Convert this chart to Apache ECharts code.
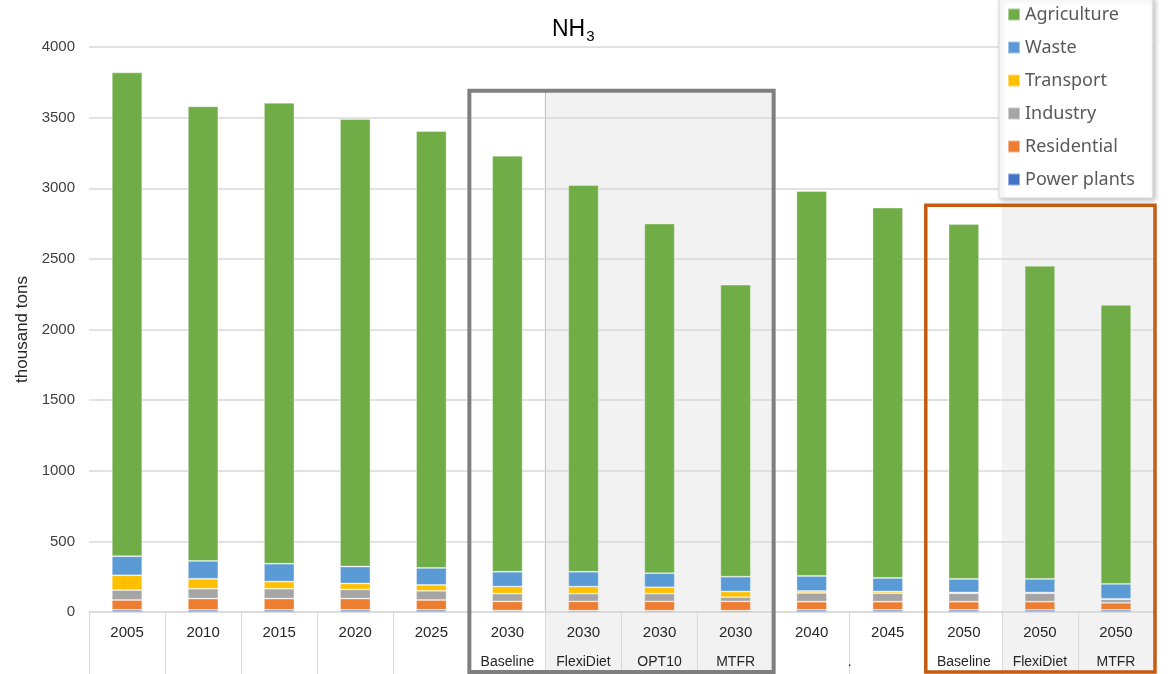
<!DOCTYPE html>
<html lang="en">
<head>
    <meta charset="UTF-8">
    <title>NH3 emissions by sector</title>
    <style>
        html, body { margin: 0; padding: 0; background: #fff; }
        #chart { width: 1170px; height: 674px; }
    </style>
</head>
<body>
<div id="chart"></div>

<script src="https://cdn.jsdelivr.net/npm/echarts/dist/echarts.min.js"></script>
<script>
    // categories: first level (year) and second level (scenario)
    const years = ['2005', '2010', '2015', '2020', '2025', '2030', '2030', '2030', '2030', '2040', '2045', '2050', '2050', '2050'];
    const scenarios = ['', '', '', '', '', 'Baseline', 'FlexiDiet', 'OPT10', 'MTFR', '', '', 'Baseline', 'FlexiDiet', 'MTFR'];

    // thousand tons
    const powerPlants = [15, 15, 15, 15, 15, 10, 10, 10, 10, 15, 15, 15, 15, 15];
    const residential = [70, 80, 80, 80, 70, 65, 65, 65, 65, 58, 58, 58, 58, 50];
    const industry    = [70, 70, 70, 65, 65, 55, 55, 55, 30, 62, 60, 60, 60, 25];
    const transport   = [105, 70, 50, 42, 42, 50, 50, 45, 40, 14, 12, 5, 5, 3];
    const waste       = [135, 127, 127, 120, 120, 105, 105, 100, 105, 106, 96, 96, 96, 106];
    const agriculture = [3425, 3218, 3263, 3168, 3093, 2945, 2738, 2475, 2067, 2725, 2622, 2513, 2217, 1975];

    const yTicks = { min: 0, max: 4000, interval: 500 };

    const narrow = "'Liberation Sans Narrow', 'Liberation Sans', sans-serif";

    const chart = echarts.init(document.getElementById('chart'));

    function bar(name, data, color) {
        return {
            name: name,
            type: 'bar',
            stack: 'total',
            barWidth: '40%',
            data: data,
            itemStyle: { color: color, borderColor: 'rgba(255,255,255,0.45)', borderWidth: 0.8 },
            emphasis: { disabled: true }
        };
    }

    chart.setOption({
        animation: false,
        title: {
            text: '{a|NH}{b|3}',
            left: 547,
            top: 10,
            textStyle: {
                fontWeight: 'normal',
                rich: {
                    a: { fontFamily: 'Liberation Sans', fontSize: 23, fontWeight: 'normal', color: '#000' },
                    b: { fontFamily: 'Liberation Sans', fontSize: 15, fontWeight: 'normal', color: '#000', padding: [14, 0, 0, 1] }
                }
            }
        },
        legend: {
            orient: 'vertical',
            left: 999,
            top: -2,
            padding: [6, 18, 8, 8],
            itemGap: 12,
            itemWidth: 12,
            itemHeight: 12,
            icon: 'rect',
            backgroundColor: '#fff',
            borderColor: '#d9d9d9',
            borderWidth: 1,
            shadowColor: 'rgba(0,0,0,0.25)',
            shadowBlur: 5,
            shadowOffsetX: 2,
            shadowOffsetY: 2,
            textStyle: { fontFamily: 'Noto Sans', fontSize: 18, color: '#595959', lineHeight: 21 },
            data: ['Agriculture', 'Waste', 'Transport', 'Industry', 'Residential', 'Power plants']
        },
        grid: { left: 89, right: 16, top: 47, bottom: 62, containLabel: false },
        xAxis: {
            type: 'category',
            data: years.map((y, i) => y + '|' + scenarios[i]),
            axisLine: { lineStyle: { color: '#d9d9d9', width: 1.5 } },
            axisTick: { show: true, interval: 0, length: 62, lineStyle: { color: '#d9d9d9', width: 1 } },
            axisLabel: {
                interval: 0,
                margin: 12,
                formatter: function (v, i) {
                    return '{y|' + years[i] + '}\n{s|' + (scenarios[i] || ' ') + '}';
                },
                rich: {
                    y: { fontFamily: narrow, fontSize: 15, color: '#262626', lineHeight: 18 },
                    s: { fontFamily: narrow, fontSize: 14, color: '#262626', lineHeight: 40 }
                }
            }
        },
        yAxis: {
            type: 'value',
            min: yTicks.min,
            max: yTicks.max,
            interval: yTicks.interval,
            name: 'thousand tons',
            nameLocation: 'middle',
            nameGap: 56,
            nameTextStyle: { fontFamily: 'Liberation Sans', fontSize: 17, color: '#262626' },
            axisLine: { show: false },
            axisTick: { show: false },
            axisLabel: {
                margin: 14,
                fontFamily: 'Liberation Sans',
                fontSize: 15,
                color: '#404040',
                formatter: v => String(v)
            },
            splitLine: { lineStyle: { color: '#d9d9d9', width: 1.5 } }
        },
        series: [
            bar('Power plants', powerPlants, '#4472c4'),
            bar('Residential', residential, '#ed7d31'),
            bar('Industry', industry, '#a5a5a5'),
            bar('Transport', transport, '#ffc000'),
            bar('Waste', waste, '#5b9bd5'),
            bar('Agriculture', agriculture, '#70ad47')
        ]
    });

    // scenario frames and shading, placed from the axes
    function bandEdge(index, side) {
        const c = chart.convertToPixel({ xAxisIndex: 0 }, index);
        const next = chart.convertToPixel({ xAxisIndex: 0 }, index + 1);
        const half = (next - c) / 2;
        return c + side * half;
    }
    const yPix = v => chart.convertToPixel({ yAxisIndex: 0 }, v);
    const bottomY = 672;

    const grayL = bandEdge(5, -1), grayR = bandEdge(8, 1), grayShade = bandEdge(6, -1);
    const grayTop = yPix(3690);
    const orgL = bandEdge(11, -1), orgR = bandEdge(13, 1) + 1, orgShade = bandEdge(12, -1);
    const orgTop = yPix(2880);
    const dotX = (chart.convertToPixel({ xAxisIndex: 0 }, 9) + chart.convertToPixel({ xAxisIndex: 0 }, 10)) / 2;

    chart.setOption({
        graphic: [
            { type: 'rect', z: -10, silent: true, shape: { x: grayShade, y: grayTop, width: grayR - grayShade, height: bottomY - grayTop }, style: { fill: '#f2f2f2' } },
            { type: 'rect', z: -10, silent: true, shape: { x: orgShade, y: orgTop, width: orgR - orgShade, height: bottomY - orgTop }, style: { fill: '#f2f2f2' } },
            { type: 'line', z: -9, silent: true, shape: { x1: grayShade, y1: grayTop, x2: grayShade, y2: yPix(0) }, style: { stroke: '#bfbfbf', lineWidth: 1 } },
            { type: 'rect', z: 100, silent: true, shape: { x: grayL, y: grayTop, width: grayR - grayL, height: bottomY - grayTop }, style: { fill: 'none', stroke: '#7f7f7f', lineWidth: 4 } },
            { type: 'rect', z: 100, silent: true, shape: { x: orgL, y: orgTop, width: orgR - orgL, height: bottomY - orgTop }, style: { fill: 'none', stroke: '#c55a11', lineWidth: 3.5 } },
            { type: 'text', z: 100, silent: true, x: dotX, y: 662, style: { text: '.', fontFamily: narrow, fontSize: 14, fill: '#262626', align: 'center', verticalAlign: 'middle' } }
        ]
    });
</script>
</body>
</html>
